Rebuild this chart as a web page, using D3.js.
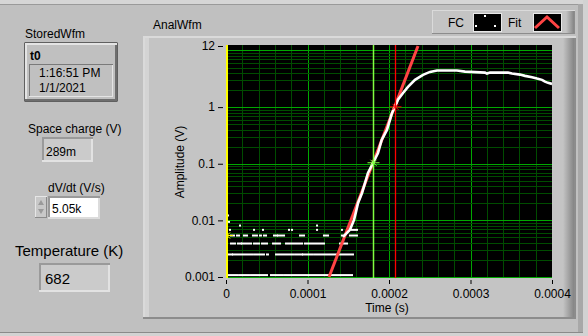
<!DOCTYPE html>
<html>
<head>
<meta charset="utf-8">
<script src="https://cdn.jsdelivr.net/npm/d3@7"></script>
<style>
  html, body { margin: 0; padding: 0; background: #c0c0c0; }
  svg { display: block; font-family: "Liberation Sans", Arial, sans-serif; }
  .lbl { font-size: 12px; fill: #000; }
  .axis text { font-size: 12px; fill: #000; font-family: "Liberation Sans", Arial, sans-serif; }
  .axis line { stroke: #000; }
  .axis path { display: none; }
</style>
</head>
<body>
<svg id="panel" width="588" height="336"></svg>
<script>
// FC waveform, rising edge and plateau (s, V)
const fcTime = [143.6e-6, 152.1e-6, 157.1e-6, 159.5e-6, 162.0e-6, 166.9e-6, 170.6e-6, 174.2e-6,
  180.4e-6, 186.5e-6, 191.0e-6, 197.5e-6, 203.7e-6, 207.4e-6, 211.0e-6, 217.2e-6, 223.3e-6,
  231.9e-6, 241.7e-6, 250.3e-6, 258.9e-6, 283.4e-6, 293.3e-6, 317.8e-6, 320.2e-6, 323.9e-6,
  346.0e-6, 350.9e-6, 360.7e-6, 366.9e-6, 375.5e-6, 381.6e-6, 387.7e-6, 391.4e-6, 395.1e-6, 400e-6];
const fcAmp = [0.0051, 0.0068, 0.0102, 0.0141, 0.0203, 0.0305, 0.0458, 0.0688,
  0.103, 0.155, 0.263, 0.395, 0.79, 1.01, 1.35, 1.78, 2.27,
  3.03, 3.71, 4.19, 4.42, 4.42, 4.24, 4.07, 3.91, 4.07,
  4.07, 3.91, 3.75, 3.56, 3.38, 3.19, 3.03, 2.82, 2.68, 2.57];

// FC baseline noise: quantized levels (V) and the time runs (s) where samples sit on each level
const noiseLevels = [0.00108, 0.0025, 0.0039, 0.0054, 0.0068, 0.0081, 0.0094, 0.0122];
const noiseRuns = [
  [[1.2e-6, 13.5e-6], [16e-6, 28.2e-6], [30.7e-6, 50.3e-6], [55.2e-6, 69.9e-6], [72.4e-6, 78.5e-6],
   [81e-6, 94.5e-6], [96.9e-6, 125.2e-6], [127.6e-6, 154.6e-6]],
  [[1.2e-6, 7.4e-6], [8.6e-6, 22.1e-6], [24.5e-6, 31.9e-6], [34.4e-6, 46.6e-6], [50.3e-6, 51.5e-6],
   [61.4e-6, 66.3e-6], [68.7e-6, 82.2e-6], [84.7e-6, 93.3e-6], [94.5e-6, 106.7e-6], [109.2e-6, 125.2e-6],
   [127.6e-6, 136.2e-6], [137.4e-6, 155.8e-6]],
  [[6.1e-6, 11e-6], [14.7e-6, 18.4e-6], [19.6e-6, 22.1e-6], [24.5e-6, 30.7e-6], [34.4e-6, 40.5e-6],
   [44.2e-6, 50.3e-6], [57.7e-6, 66.3e-6], [73.6e-6, 93.3e-6], [96.9e-6, 120.2e-6], [139.9e-6, 148.5e-6]],
  [[6.1e-6, 9.8e-6], [13.5e-6, 16e-6], [22.1e-6, 25.8e-6], [33.1e-6, 38e-6], [41.7e-6, 42.9e-6],
   [46.6e-6, 49.1e-6], [58.9e-6, 62.6e-6], [63.8e-6, 71.2e-6], [90.8e-6, 95.7e-6], [120.2e-6, 125.2e-6],
   [142.3e-6, 146e-6], [152.1e-6, 160.7e-6]],
  [[4.9e-6, 4.9e-6], [34.4e-6, 34.4e-6], [45.4e-6, 45.4e-6], [77.3e-6, 77.3e-6], [81e-6, 81e-6],
   [111.7e-6, 111.7e-6], [142.3e-6, 142.3e-6], [154.6e-6, 160.7e-6]],
  [[17.2e-6, 17.2e-6], [111.7e-6, 111.7e-6]],
  [[3.7e-6, 3.7e-6]],
  [[2.5e-6, 2.5e-6]]
];

// exponential fit (straight on the log axis)
const fitTime = [126.4e-6, 235.6e-6];
const fitAmp = [0.001, 12];

// cursors
const cursorTime = [0, 180.4e-6, 207.4e-6];
const cursorAmp = [0.0054, 0.104, 1.01];
const cursorColor = ['#ffff00', '#80ff40', '#ff0000'];

const yTicks = [0.001, 0.01, 0.1, 1, 12];
const xTicks = [0, 0.0001, 0.0002, 0.0003, 0.0004];

const svg = d3.select('#panel');

// ---- window / frames ----
svg.append('rect').attr('width', 588).attr('height', 336).attr('fill', '#c0c0c0');
svg.append('rect').attr('x', 0).attr('y', 0).attr('width', 588).attr('height', 4).attr('fill', '#d6d6d6');
svg.append('line').attr('x1', 0).attr('x2', 583).attr('y1', 4.5).attr('y2', 4.5).attr('stroke', '#9a9a9a');
svg.append('rect').attr('x', 578).attr('y', 4).attr('width', 5).attr('height', 328).attr('fill', '#a8a8a8');
svg.append('rect').attr('x', 583).attr('y', 0).attr('width', 5).attr('height', 336).attr('fill', '#d2d2d2');
svg.append('line').attr('x1', 0).attr('x2', 583).attr('y1', 332.5).attr('y2', 332.5).attr('stroke', '#8a8a8a');
svg.append('rect').attr('x', 0).attr('y', 333).attr('width', 588).attr('height', 3).attr('fill', '#d2d2d2');

function bevel(x, y, w, h, fill, tl, br, t) {
  svg.append('rect').attr('x', x).attr('y', y).attr('width', w).attr('height', h).attr('fill', fill);
  svg.append('path').attr('d', `M${x},${y + h}V${y}H${x + w}V${y + t}H${x + t}V${y + h - t}H${x}Z`).attr('fill', tl);
  svg.append('path').attr('d', `M${x + w},${y}V${y + h}H${x}V${y + h - t}H${x + w - t}V${y + t}H${x + w}Z`).attr('fill', br);
}

// graph frame
bevel(143, 36, 433, 283, '#c4c4c4', '#dadada', '#8c8c8c', 2);
const grad = svg.append('defs').append('linearGradient').attr('id', 'edge');
grad.append('stop').attr('offset', '0%').attr('stop-color', '#c4c4c4');
grad.append('stop').attr('offset', '100%').attr('stop-color', '#858585');
svg.append('rect').attr('x', 563).attr('y', 38).attr('width', 11).attr('height', 279).attr('fill', 'url(#edge)');
svg.append('rect').attr('x', 145).attr('y', 38).attr('width', 4).attr('height', 279).attr('fill', '#d4d4d4');

svg.append('text').attr('class', 'lbl').attr('x', 153).attr('y', 29).text('AnalWfm');

// legend
bevel(432, 10, 143, 24, '#c4c4c4', '#dadada', '#8c8c8c', 1);
svg.append('rect').attr('x', 566).attr('y', 11).attr('width', 8).attr('height', 22).attr('fill', 'url(#edge)');
svg.append('text').attr('class', 'lbl').attr('x', 448).attr('y', 27).text('FC');
svg.append('text').attr('class', 'lbl').attr('x', 508).attr('y', 27).text('Fit');
svg.append('rect').attr('x', 473.5).attr('y', 13.5).attr('width', 28).attr('height', 18).attr('fill', '#000').attr('stroke', '#e8e8e8');
svg.append('rect').attr('x', 533.5).attr('y', 13.5).attr('width', 28).attr('height', 18).attr('fill', '#000').attr('stroke', '#e8e8e8');
[[484, 15], [475, 25], [494, 25]].forEach(p => {
  svg.append('rect').attr('x', p[0]).attr('y', p[1]).attr('width', 2).attr('height', 2).attr('fill', '#fff');
});
svg.append('path').attr('d', 'M535,28L547,17L559,28').attr('fill', 'none').attr('stroke', '#ff4444').attr('stroke-width', 3);

// ---- plot ----
const x = d3.scaleLinear().domain([0, 0.0004]).range([226, 552]);
const y = d3.scaleLog().domain([0.001, 12]).range([277, 46]);

svg.append('rect').attr('x', 226).attr('y', 45).attr('width', 326).attr('height', 233).attr('fill', '#000');
svg.append('defs').append('clipPath').attr('id', 'clip')
  .append('rect').attr('x', 226).attr('y', 45).attr('width', 326).attr('height', 233);
const plot = svg.append('g').attr('clip-path', 'url(#clip)');

// grid
const xMinor = d3.range(0, 21).map(i => i * 0.00002);
const yGrid = [];
for (let d = -3; d <= 1; d++) {
  for (let m = 1; m <= 9; m++) {
    const v = m * Math.pow(10, d);
    if (v <= 12) yGrid.push({ v: v, major: m === 1 });
  }
}
plot.selectAll('.gx').data(xMinor).join('line')
  .attr('x1', d => Math.round(x(d)) + 0.5).attr('x2', d => Math.round(x(d)) + 0.5)
  .attr('y1', 45).attr('y2', 278)
  .attr('stroke', (d, i) => (i % 5 === 0 ? '#00a800' : '#004c00'));
plot.selectAll('.gy').data(yGrid).join('line')
  .attr('x1', 226).attr('x2', 552)
  .attr('y1', d => Math.round(y(d.v)) + 0.5).attr('y2', d => Math.round(y(d.v)) + 0.5)
  .attr('stroke', d => (d.major ? '#00a800' : '#004c00'));

// noise samples
const noise = [];
noiseRuns.forEach((runs, i) => runs.forEach(r => noise.push({ t0: r[0], t1: r[1], v: noiseLevels[i] })));
plot.selectAll('.nz').data(noise).join('rect')
  .attr('x', d => x(d.t0) - 1)
  .attr('y', d => y(d.v) - 1)
  .attr('width', d => Math.max(2, x(d.t1) - x(d.t0) + 2))
  .attr('height', 2)
  .attr('fill', '#fff');

// fit
plot.append('path')
  .datum(fitTime.map((t, i) => [t, fitAmp[i]]))
  .attr('d', d3.line().x(d => x(d[0])).y(d => y(d[1])))
  .attr('fill', 'none').attr('stroke', '#ff4444').attr('stroke-width', 3);

// FC curve
plot.append('path')
  .datum(fcTime.map((t, i) => [t, fcAmp[i]]))
  .attr('d', d3.line().x(d => x(d[0])).y(d => y(d[1])))
  .attr('fill', 'none').attr('stroke', '#fff').attr('stroke-width', 2.6);

// cursors
cursorTime.forEach((t, i) => {
  const cx = i === 0 ? 227 : Math.round(x(t)) + 0.5;
  const cy = y(cursorAmp[i]);
  plot.append('line').attr('x1', cx).attr('x2', cx).attr('y1', 45).attr('y2', 278)
    .attr('stroke', cursorColor[i]).attr('stroke-width', i === 0 ? 2 : (i === 1 ? 1.5 : 1.3));
  plot.append('path')
    .attr('d', `M${cx - 3},${cy - 3}L${cx + 3},${cy + 3}M${cx - 3},${cy + 3}L${cx + 3},${cy - 3}M${cx - 6},${cy}H${cx + 6}`)
    .attr('stroke', cursorColor[i]).attr('stroke-width', 1).attr('fill', 'none');
});

// axes
svg.append('g').attr('class', 'axis').attr('transform', 'translate(223,0)')
  .call(d3.axisLeft(y).tickValues(yTicks).tickFormat(d => (d === 12 ? '12' : String(d))).tickSize(5).tickPadding(3));
svg.append('g').attr('class', 'axis').attr('transform', 'translate(0,280)')
  .call(d3.axisBottom(x).tickValues(xTicks).tickFormat(d => (d === 0 ? '0' : d3.format('.4f')(d))).tickSize(4).tickPadding(5));

svg.append('text').attr('class', 'lbl').attr('text-anchor', 'middle')
  .attr('transform', 'translate(184,162) rotate(-90)').text('Amplitude (V)');
svg.append('text').attr('class', 'lbl').attr('text-anchor', 'middle')
  .attr('x', 387).attr('y', 312).text('Time (s)');

// ---- left controls ----
svg.append('text').attr('class', 'lbl').attr('x', 25).attr('y', 38).text('StoredWfm');
svg.append('rect').attr('x', 24.5).attr('y', 42.5).attr('width', 93).attr('height', 59).attr('fill', '#000');
bevel(25, 43, 92, 58, '#c0c0c0', '#e4e4e4', '#6e6e6e', 2);
svg.append('text').attr('class', 'lbl').attr('x', 30).attr('y', 60).attr('font-weight', 'bold').text('t0');
bevel(29, 64, 84, 33, '#c0c0c0', '#7a7a7a', '#e4e4e4', 1);
svg.append('text').attr('class', 'lbl').attr('x', 39).attr('y', 77).text('1:16:51 PM');
svg.append('text').attr('class', 'lbl').attr('x', 39).attr('y', 92).text('1/1/2021');

svg.append('text').attr('class', 'lbl').attr('x', 28).attr('y', 133).text('Space charge (V)');
bevel(42, 137, 51, 25, '#cbcbcb', '#9a9a9a', '#e2e2e2', 2);
svg.append('text').attr('class', 'lbl').attr('x', 46).attr('y', 156).text('289m');

svg.append('text').attr('class', 'lbl').attr('x', 48).attr('y', 192).text('dV/dt (V/s)');
bevel(35, 196, 12, 22, '#c8c8c8', '#e6e6e6', '#8a8a8a', 1);
svg.append('path').attr('d', 'M38,205L41,200L44,205Z').attr('fill', '#9a9a9a');
svg.append('path').attr('d', 'M38,209L41,214L44,209Z').attr('fill', '#9a9a9a');
bevel(48, 196, 52, 23, '#ffffff', '#9a9a9a', '#dcdcdc', 2);
svg.append('text').attr('class', 'lbl').attr('x', 52).attr('y', 213).text('5.05k');

svg.append('text').attr('x', 15).attr('y', 256).attr('font-size', 15).text('Temperature (K)');
bevel(39, 263, 71, 29, '#cbcbcb', '#9a9a9a', '#e2e2e2', 2);
svg.append('text').attr('x', 45).attr('y', 284).attr('font-size', 15).text('682');
</script>
</body>
</html>
